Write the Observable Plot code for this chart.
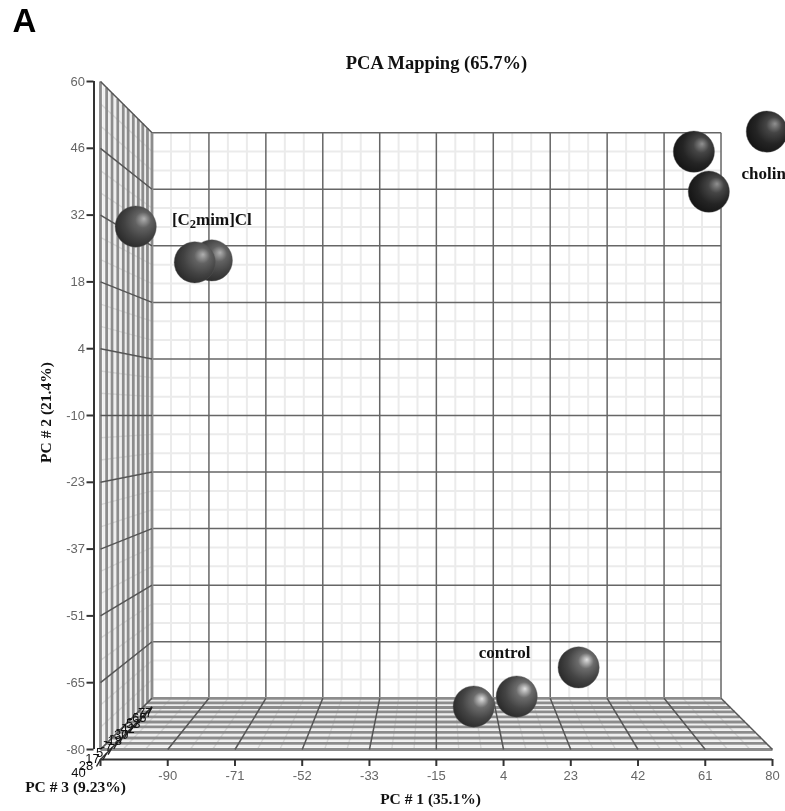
<!DOCTYPE html>
<html>
<head>
<meta charset="utf-8">
<style>
  html,body{margin:0;padding:0;background:#fff;overflow:hidden}
  svg{display:block;filter:blur(0.35px)}
</style>
<script src="https://cdn.jsdelivr.net/npm/d3@7"></script>
<script src="https://cdn.jsdelivr.net/npm/@observablehq/plot@0.6"></script>
</head>
<body>
<div id="chart"></div>
<script>
// PC1 axis: tick positions and printed labels
const pc1Values = [-108.9,-90,-71.1,-52.2,-33.3,-14.5,4.4,23.3,42.2,61.1,80];
const pc1Labels = ["","-90","-71","-52","-33","-15","4","23","42","61","80"];
// PC2 axis
const pc2Values = [60,46,32,18,4,-10,-24,-38,-52,-66,-80];
const pc2Labels = ["60","46","32","18","4","-10","-23","-37","-51","-65","-80"];
// PC3 axis (depth, near to far)
const pc3Values = [40,28,17,5,-7,-18,-30,-42,-53,-65,-77];

// Samples in (PC1, PC2) as drawn
const imPc1 = [-99.0,-77.6,-82.4];
const imPc2 = [29.6,22.5,22.1];
const cholinePc1 = [57.9,78.4,62.1];
const cholinePc2 = [45.3,49.5,36.9];
const controlPc1 = [25.5,8.1,-4.0];
const controlPc2 = [-62.8,-68.9,-71.0];

// Group labels
const groupNames = ["[C2mim]Cl","choline","control"];
const groupPc1 = [-77.6,78.6,4.7];
const groupPc2 = [31.1,40.7,-59.7];

const pc1Mid = (pc1Values[0]+pc1Values[10])/2, pc2Mid = (pc2Values[0]+pc2Values[10])/2;
const near = pc3Values[0], far = pc3Values[pc3Values.length-1];
const depth = z => (near-z)/(near-far);
const shrink = z => 1/(1+0.181*depth(z));
const px = (a,z) => pc1Mid+(a-pc1Mid)*shrink(z);
const py = (b,z) => pc2Mid+(b-pc2Mid)*shrink(z);

// minor grid positions between major ticks
const thirds = v => d3.pairs(v).flatMap(([a,b]) => [a+(b-a)/3, a+2*(b-a)/3]);
const halves = v => d3.pairs(v).map(([a,b]) => (a+b)/2);
const pc1Min = pc1Values[0], pc1Max = pc1Values[10], pc2Min = pc2Values[10], pc2Max = pc2Values[0];

const backV = v => v.map(a => ({x1:px(a,far),y1:py(pc2Min,far),x2:px(a,far),y2:py(pc2Max,far)}));
const backH = v => v.map(b => ({x1:px(pc1Min,far),y1:py(b,far),x2:px(pc1Max,far),y2:py(b,far)}));
const wallH = v => v.map(b => ({x1:px(pc1Min,near),y1:py(b,near),x2:px(pc1Min,far),y2:py(b,far)}));
const wallV = v => v.map(z => ({x1:px(pc1Min,z),y1:py(pc2Min,z),x2:px(pc1Min,z),y2:py(pc2Max,z)}));
const floorD = v => v.map(a => ({x1:px(a,near),y1:py(pc2Min,near),x2:px(a,far),y2:py(pc2Min,far)}));
const floorH = v => v.map(z => ({x1:px(pc1Min,z),y1:py(pc2Min,z),x2:px(pc1Max,z),y2:py(pc2Min,z)}));

const seg = (data,stroke,strokeWidth) => Plot.link(data,{x1:"x1",y1:"y1",x2:"x2",y2:"y2",stroke,strokeWidth});

const axisBelow = pc2Min-2.1; // PC1 axis line sits just under the floor
const sans = "Liberation Sans, Arial, sans-serif", serif = "Liberation Serif, Times New Roman, serif";
const sphere = (xs,ys,id) => Plot.dot(xs.map((x,i)=>({x,y:ys[i]})),{x:"x",y:"y",r:20.6,fill:`url(#${id})`,stroke:"#555",strokeWidth:0.4});
const axisTitle = (text,o) => Plot.text([text],{text:d=>d,fontFamily:serif,fontWeight:"bold",fontSize:15.5,fill:"#111",textAnchor:"middle",lineAnchor:"middle",...o});

const chart = Plot.plot({
  width:785,height:811,
  marginLeft:100,marginRight:13,marginTop:81,marginBottom:62,
  x:{domain:[pc1Min,pc1Max]},
  y:{domain:[pc2Min,pc2Max]},
  style:{background:"#fff"},
  marks:[
    seg(backV(thirds(pc1Values)),"#ebebeb",2),
    seg(backH(thirds(pc2Values)),"#ebebeb",2),
    seg(backV(pc1Values),"#666",1.5),
    seg(backH(pc2Values),"#666",1.5),

    seg(wallV(halves(pc3Values)),"#eeeeee",2.2),
    seg(wallH(thirds(pc2Values)),"#d8d8d8",1.4),
    seg(wallV(pc3Values),"#8c8c8c",2.8),
    seg(wallH(pc2Values),"#555",1.5),

    seg(floorH(halves(pc3Values)),"#eeeeee",2.2),
    seg(floorD(thirds(pc1Values)),"#d8d8d8",1.4),
    seg(floorH(pc3Values),"#8c8c8c",2.8),
    seg(floorD(pc1Values),"#555",1.5),

    // axes
    Plot.ruleX([pc1Min],{y1:pc2Min,y2:pc2Max,dx:-6.5,stroke:"#333",strokeWidth:2}),
    Plot.ruleY([axisBelow],{x1:pc1Min,x2:pc1Max,stroke:"#333",strokeWidth:2}),
    Plot.link([{x1:px(pc1Min,near),y1:py(axisBelow,near),x2:px(pc1Min,far),y2:py(axisBelow,far)}],
      {x1:"x1",y1:"y1",x2:"x2",y2:"y2",stroke:"#333",strokeWidth:1.4}),
    Plot.link(pc3Values,{x1:z=>px(pc1Min,z),y1:z=>py(axisBelow,z),x2:z=>px(pc1Min,z)-4*0.281,y2:z=>py(axisBelow,z)-7*0.2096,stroke:"#222",strokeWidth:1.4}),
    Plot.axisY({ticks:pc2Values,tickFormat:(d,i)=>pc2Labels[i],tickSize:7,dx:-6.5,tickPadding:2,
      stroke:"#333",strokeWidth:2,fill:"#666",fontSize:13,fontFamily:sans,label:null}),
    Plot.axisX({ticks:pc1Values,tickFormat:(d,i)=>pc1Labels[i],tickSize:7,dy:10,tickPadding:4,
      stroke:"#333",strokeWidth:2,fill:"#666",fontSize:13,fontFamily:sans,label:null}),
    // PC3 labels pile up along the depth axis, as they do in the original
    Plot.text(pc3Values,{x:z=>px(pc1Min,z)-(22-13*depth(z))*0.281,y:z=>py(axisBelow,z)-(13-7*depth(z))*0.2096,text:d=>String(d),
      fontSize:13,fontFamily:sans,fill:"#111"}),

    // samples
    sphere(imPc1,imPc2,"sphereIm"),
    sphere(cholinePc1,cholinePc2,"sphereCholine"),
    sphere(controlPc1,controlPc2,"sphereControl"),

    // text
    Plot.text(groupNames,{x:(d,i)=>groupPc1[i],y:(d,i)=>groupPc2[i],text:d=>d,
      fontFamily:serif,fontWeight:"bold",fontSize:17,fill:"#111"}),
    axisTitle("PCA Mapping (65.7%)",{frameAnchor:"top",dy:-18,fontSize:18.5}),
    axisTitle("PC # 1 (35.1%)",{frameAnchor:"bottom",dx:-6,dy:50}),
    axisTitle("PC # 2 (21.4%)",{frameAnchor:"left",dx:-54,dy:-3,rotate:-90}),
    axisTitle("PC # 3 (9.23%)",{frameAnchor:"bottom-left",dx:-25,dy:38}),
    Plot.text(["A"],{frameAnchor:"top-left",dx:-88,dy:-60,lineAnchor:"middle",text:d=>d,fontFamily:sans,fontWeight:"bold",fontSize:33,fill:"#000"})
  ]
});

const grad = (id,hi,mid,lo,edge) => `<radialGradient id="${id}" cx="0.62" cy="0.42" r="0.68" fx="0.7" fy="0.31">
  <stop offset="0" stop-color="${hi}"/><stop offset="0.28" stop-color="${mid}"/>
  <stop offset="0.62" stop-color="${lo}"/><stop offset="1" stop-color="${edge}"/></radialGradient>`;
d3.select(chart).insert("defs",":first-child").html(
  grad("sphereIm","#b0b0b0","#626262","#424242","#262626")+
  grad("sphereCholine","#909090","#454545","#242424","#121212")+
  grad("sphereControl","#e0e0e0","#6c6c6c","#444444","#262626"));
// the 2 in the ionic liquid's name is a true subscript
d3.select(chart).selectAll("text").filter(function(){return this.textContent==="[C2mim]Cl"})
  .html('[C<tspan dy="3.5" font-size="12.5">2</tspan><tspan dy="-3.5">mim]Cl</tspan>');
document.getElementById("chart").append(chart);
</script>
</body>
</html>
